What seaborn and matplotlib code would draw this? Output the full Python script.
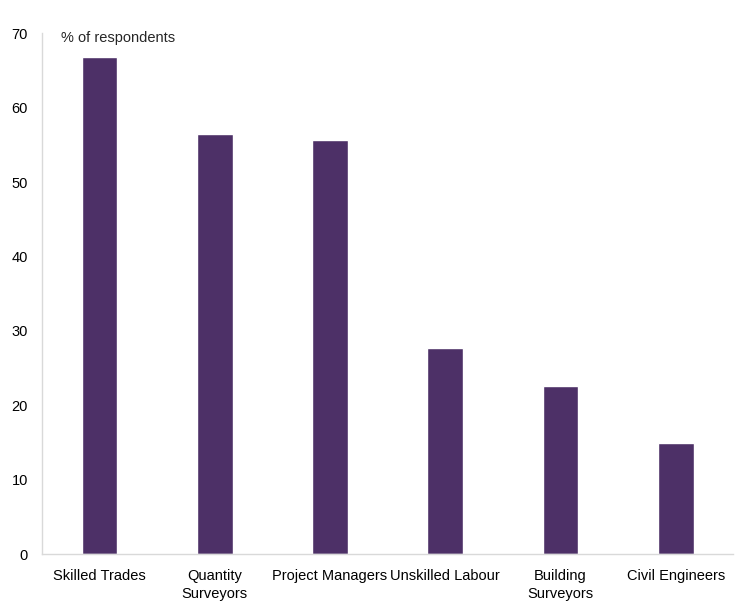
import seaborn as sns
import matplotlib.pyplot as plt
import pandas as pd

roles = ["Skilled Trades", "Quantity\nSurveyors", "Project Managers",
         "Unskilled Labour", "Building\nSurveyors", "Civil Engineers"]
pct = [66.8, 56.4, 55.6, 27.7, 22.6, 15.0]

sns.set_theme(style="white")
plt.rcParams['font.family'] = ['Liberation Sans', 'DejaVu Sans']

df = pd.DataFrame({"role": roles, "pct": pct})

fig = plt.figure(figsize=(7.37, 6.03), dpi=100)
ax = fig.add_axes([0.057, 0.081, 0.938, 0.864])
sns.barplot(data=df, x="role", y="pct", color="#4D3067", width=0.31,
            saturation=1, ax=ax)

ax.set_ylim(0, 70)
ax.set_yticks(range(0, 71, 10))
ax.set_xlabel("")
ax.set_ylabel("")
ax.tick_params(axis="both", length=0, labelsize=10.5, colors="black")
ax.tick_params(axis="y", pad=10)
ax.tick_params(axis="x", pad=11)
for lab in ax.get_xticklabels():
    lab.set_linespacing(1.35)
for s in ["top", "right"]:
    ax.spines[s].set_visible(False)
for s in ["left", "bottom"]:
    ax.spines[s].set_color("#D9D9D9")
    ax.spines[s].set_linewidth(1)
ax.text(0.027, 0.99, "% of respondents", transform=ax.transAxes,
        fontsize=10.5, va="center", ha="left")

fig.savefig("out.png", dpi=100)
